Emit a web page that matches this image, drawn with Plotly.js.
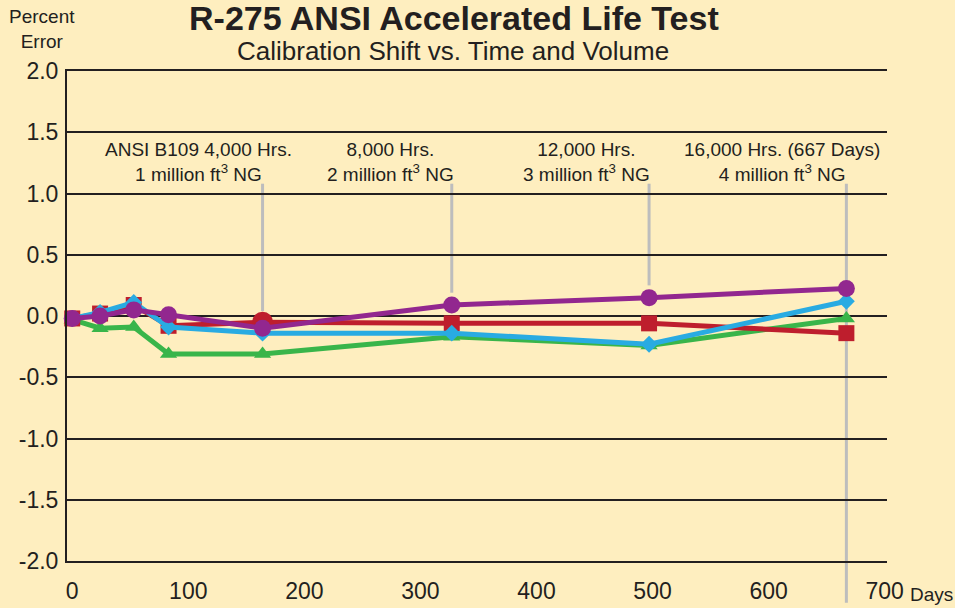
<!DOCTYPE html>
<html>
<head>
<meta charset="utf-8">
<script src="https://cdn.plot.ly/plotly-3.0.1.min.js"></script>
<style>html,body{margin:0;padding:0;background:#FEEEBF;}#chart{width:955px;height:608px;}</style>
</head>
<body>
<div id="chart"></div>
<script>
// ---- data ----
const days = [0, 24, 53, 83, 164, 327, 497, 667];
const redSeries = [-0.02, 0.02, 0.09, -0.08, -0.05, -0.06, -0.06, -0.14];
const redSymbols = ['square', 'square', 'square', 'square', 'circle', 'square', 'square', 'square'];
const blueSeries = [-0.02, 0.03, 0.11, -0.09, -0.14, -0.14, -0.23, 0.12];
const greenSeries = [-0.03, -0.10, -0.09, -0.31, -0.31, -0.17, -0.24, -0.02];
const purpleSeries = [-0.02, 0.00, 0.05, 0.01, -0.10, 0.09, 0.15, 0.225];

const milestoneDays = [164, 327, 497, 667];
const milestoneLine1 = ['ANSI B109 4,000 Hrs.', '8,000 Hrs.', '12,000 Hrs.', '16,000 Hrs. (667 Days)'];
const milestoneLine2 = ['1 million ft<sup>3</sup> NG', '2 million ft<sup>3</sup> NG', '3 million ft<sup>3</sup> NG', '4 million ft<sup>3</sup> NG'];
const milestoneLineEnds = [0.04, 0.19, 0.25, null];

const xTickVals = [0, 100, 200, 300, 400, 500, 600, 700];
const xTickText = ['0', '100', '200', '300', '400', '500', '600', '700'];
const yTickVals = [2, 1.5, 1, 0.5, 0, -0.5, -1, -1.5, -2];
const yTickText = ['2.0', '1.5', '1.0', '0.5', '0.0', '-0.5', '-1.0', '-1.5', '-2.0'];

// ---- styling ----
const ink = '#231F20';
const FONT = 'Liberation Sans, Arial, Helvetica, sans-serif';
const LW = 5;

function series(y, color, symbol, size) {
  return {
    x: days, y: y, type: 'scatter', mode: 'lines+markers',
    line: {color: color, width: LW},
    marker: {color: color, symbol: symbol, size: size, opacity: 1, line: {width: 0}},
    cliponaxis: false, hoverinfo: 'skip'
  };
}

const traces = [
  series(greenSeries, '#39B54A', 'triangle-up', 15),
  series(redSeries, '#BE1E2D', redSymbols, redSymbols.map(s => s === 'circle' ? 21 : 16)),
  series(blueSeries, '#29ABE2', 'diamond', 13),
  series(purpleSeries, '#92278F', 'circle', 17)
];

const shapes = milestoneDays.map((d, i) => {
  const end = milestoneLineEnds[i];
  if (end === null) {
    return {type: 'line', xref: 'x', yref: 'paper', x0: d, x1: d,
      y0: -0.085, y1: (1.08 + 2) / 4, line: {color: '#BDBDBD', width: 3}, layer: 'below'};
  }
  return {type: 'line', xref: 'x', yref: 'y', x0: d, x1: d,
    y0: end, y1: 1.08, line: {color: '#BDBDBD', width: 3}, layer: 'below'};
});

const labelX = [108.5, 274, 443, 611.5];
const annotations = milestoneDays.map((d, i) => ({
  xref: 'x', yref: 'y', x: labelX[i], y: 1.258,
  text: milestoneLine1[i] + '<br>' + milestoneLine2[i],
  showarrow: false, xanchor: 'center', yanchor: 'middle', align: 'center',
  font: {family: FONT, size: 19, color: ink}
}));

annotations.push(
  {xref: 'paper', yref: 'paper', x: (454 - 67) / 820, y: 1 + (71 - 18) / 490, yanchor: 'middle', xanchor: 'center',
   text: '<b>R-275 ANSI Accelerated Life Test</b>', showarrow: false,
   font: {family: FONT, size: 34, color: ink}},
  {xref: 'paper', yref: 'paper', x: (453 - 67) / 820, y: 1 + (71 - 51) / 490, yanchor: 'middle', xanchor: 'center',
   text: 'Calibration Shift vs. Time and Volume', showarrow: false,
   font: {family: FONT, size: 26, color: ink}},
  {xref: 'paper', yref: 'paper', x: (42 - 67) / 820, y: 1 + (71 - 29.5) / 490, yanchor: 'middle', xanchor: 'center',
   text: 'Percent<br>Error', showarrow: false,
   font: {family: FONT, size: 19, color: ink}},
  {xref: 'paper', yref: 'paper', x: (931 - 67) / 820, y: -(594 - 561) / 490, yanchor: 'middle', xanchor: 'center',
   text: 'Days', showarrow: false,
   font: {family: FONT, size: 19, color: ink}}
);

const layout = {
  width: 955, height: 608,
  margin: {l: 67, r: 68, t: 71, b: 47, pad: 0},
  paper_bgcolor: '#FEEEBF', plot_bgcolor: '#FEEEBF',
  showlegend: false,
  font: {family: FONT, color: ink},
  xaxis: {
    range: [-4.5, 702], tickvals: xTickVals, ticktext: xTickText,
    showgrid: false, zeroline: false, showline: true, mirror: true,
    linecolor: ink, linewidth: 2, ticks: '', ticklabelstandoff: 8,
    tickfont: {family: FONT, size: 23, color: ink}, fixedrange: true
  },
  yaxis: {
    range: [-2, 2], tickvals: yTickVals, ticktext: yTickText,
    showgrid: true, gridcolor: ink, gridwidth: 2,
    zeroline: true, zerolinecolor: ink, zerolinewidth: 2,
    showline: true, linecolor: ink, linewidth: 2, ticks: '', ticklabelstandoff: 2,
    tickfont: {family: FONT, size: 23, color: ink}, fixedrange: true
  },
  shapes: shapes,
  annotations: annotations,
  hovermode: false
};

Plotly.newPlot('chart', traces, layout, {staticPlot: true, displayModeBar: false});
</script>
</body>
</html>
